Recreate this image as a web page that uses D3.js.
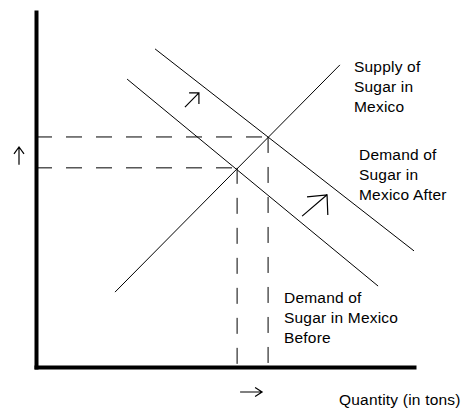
<!DOCTYPE html>
<html>
<head>
<meta charset="utf-8">
<script src="https://cdn.jsdelivr.net/npm/d3@7"></script>
<style>
  body { margin: 0; background: #fff; }
  svg { display: block; }
  text { font-family: "Liberation Sans", Arial, sans-serif; font-size: 15.5px; letter-spacing: 0.2px; fill: #000; }
</style>
</head>
<body>
<div id="chart"></div>
<script>
// Curves as [quantity, price] end points (arbitrary units, 0-10)
const supply = [[2.09, 2.11], [8.04, 8.51]];
const demandBefore = [[2.41, 8.11], [9.05, 2.28]];
const demandAfter = [[3.15, 8.96], [10.0, 3.27]];

// Equilibria before and after the demand shift
const equilibria = [[5.32, 5.61], [6.14, 6.48]];

// Shift arrows: tail, tip, then the two head ends
const shiftArrows = [
  [[3.94, 7.32], [4.31, 7.72], [4.05, 7.72], [4.31, 7.41]],
  [[7.04, 4.25], [7.70, 4.85], [7.17, 4.79], [7.72, 4.28]]
];

const supplyLabel = ['Supply of', 'Sugar in', 'Mexico'];
const demandAfterLabel = ['Demand of', 'Sugar in', 'Mexico After'];
const demandBeforeLabel = ['Demand of', 'Sugar in Mexico', 'Before'];
const xAxisLabel = 'Quantity (in tons)';

// Chart dimensions
const width = 461;
const height = 410;
const margin = { top: 12, right: 47, bottom: 43, left: 36 };

const svg = d3.select('#chart').append('svg')
  .attr('width', width)
  .attr('height', height);

svg.append('rect').attr('width', width).attr('height', height).attr('fill', '#fff');

// Scales
const x = d3.scaleLinear().domain([0, 10]).range([margin.left, width - margin.right]);
const y = d3.scaleLinear().domain([0, 10]).range([height - margin.bottom, margin.top]);

const line = d3.line().x(d => x(d[0])).y(d => y(d[1]));

// Dashed guides from each equilibrium to the axes
equilibria.forEach(([q, p]) => {
  svg.append('path')
    .attr('d', line([[0, p], [q, p]]))
    .attr('fill', 'none')
    .attr('stroke', '#000')
    .attr('stroke-width', 1)
    .attr('stroke-dasharray', '16,14');
  svg.append('path')
    .attr('d', line([[q, p], [q, 0]]))
    .attr('fill', 'none')
    .attr('stroke', '#000')
    .attr('stroke-width', 1)
    .attr('stroke-dasharray', '16,14');
});

// Supply and demand curves
[supply, demandBefore, demandAfter].forEach(c => {
  svg.append('path')
    .attr('d', line(c))
    .attr('fill', 'none')
    .attr('stroke', '#000')
    .attr('stroke-width', 1);
});

// Shift arrows
shiftArrows.forEach(([tail, tip, h1, h2]) => {
  svg.append('path')
    .attr('d', line([tail, tip]) + line([h1, tip, h2]))
    .attr('fill', 'none')
    .attr('stroke', '#000')
    .attr('stroke-width', 1.2);
});

// Axes, no ticks
const xAxis = svg.append('g')
  .attr('transform', `translate(0,${y(0)})`)
  .call(d3.axisBottom(x).tickValues([]).tickSize(0));
const yAxis = svg.append('g')
  .attr('transform', `translate(${x(0)},0)`)
  .call(d3.axisLeft(y).tickValues([]).tickSize(0));
[xAxis, yAxis].forEach(a => a.select('.domain')
  .attr('stroke', '#000')
  .attr('stroke-width', 4)
  .attr('stroke-linecap', 'square'));

// Price up / quantity right arrows beside the axes
const [q1, p1] = equilibria[0];
const [q2, p2] = equilibria[1];
const ax = x(0) - 17;
const upTop = y(p2) + 10;
svg.append('path')
  .attr('d', `M${ax},${y(p1) - 3}V${upTop}M${ax - 5},${upTop + 7}L${ax},${upTop}L${ax + 5},${upTop + 7}`)
  .attr('fill', 'none').attr('stroke', '#000').attr('stroke-width', 1.2);
const ay = y(0) + 25;
const rightEnd = x(q2) - 6;
svg.append('path')
  .attr('d', `M${x(q1) + 3},${ay}H${rightEnd}M${rightEnd - 7},${ay - 4.5}L${rightEnd},${ay}L${rightEnd - 7},${ay + 4.5}`)
  .attr('fill', 'none').attr('stroke', '#000').attr('stroke-width', 1.2);

// Labels
function addLabel(lines, lx, ly) {
  const t = svg.append('text').attr('x', lx).attr('y', ly);
  lines.forEach((s, i) => {
    t.append('tspan').attr('x', lx).attr('dy', i === 0 ? 0 : 20).text(s);
  });
}
addLabel(supplyLabel, 354, 72);
addLabel(demandAfterLabel, 359, 160);
addLabel(demandBeforeLabel, 284, 303);

svg.append('text')
  .attr('x', 339)
  .attr('y', 405)
  .text(xAxisLabel);
</script>
</body>
</html>
